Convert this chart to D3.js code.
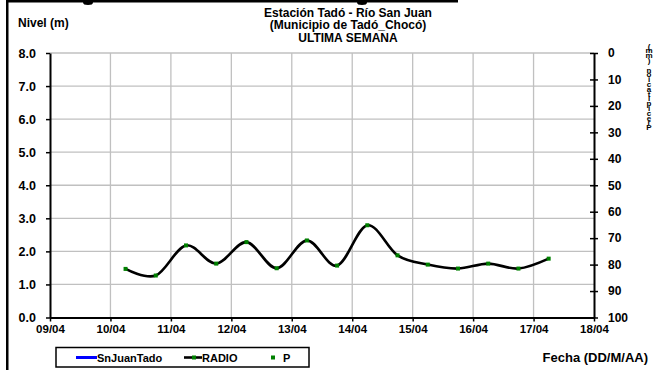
<!DOCTYPE html>
<html>
<head>
<meta charset="utf-8">
<script src="https://cdn.jsdelivr.net/npm/d3@7/dist/d3.min.js"></script>
<style>
  html, body { margin: 0; padding: 0; background: #fff; }
  svg { display: block; font-family: "Liberation Sans", Arial, sans-serif; font-weight: bold; }
</style>
</head>
<body>
<svg id="chart" width="653" height="370"></svg>
<script>
// Station level readings (m), every 12 hours
const fechas = [
  "2021-04-10T06:00", "2021-04-10T18:00", "2021-04-11T06:00", "2021-04-11T18:00",
  "2021-04-12T06:00", "2021-04-12T18:00", "2021-04-13T06:00", "2021-04-13T18:00",
  "2021-04-14T06:00", "2021-04-14T18:00", "2021-04-15T06:00", "2021-04-15T18:00",
  "2021-04-16T06:00", "2021-04-16T18:00", "2021-04-17T06:00"
];
const nivel = [1.47, 1.27, 2.18, 1.63, 2.28, 1.49, 2.33, 1.57, 2.79, 1.88, 1.60, 1.48, 1.63, 1.48, 1.78];

const fechaInicio = "2021-04-09T00:00";
const fechaFin = "2021-04-18T00:00";
const nivelTicks = [0, 1, 2, 3, 4, 5, 6, 7, 8];
const precipTicks = [0, 10, 20, 30, 40, 50, 60, 70, 80, 90, 100];
const titulo = ["Estación Tadó - Río San Juan", "(Municipio de Tadó_Chocó)", "ULTIMA SEMANA"];
const leyenda = ["SnJuanTado", "RADIO", "P"];
const etiquetaPrecip = "Precipitación (mm)";

const parse = d3.timeParse("%Y-%m-%dT%H:%M");
const datos = fechas.map((f, i) => ({ t: parse(f), v: nivel[i] }));

const svg = d3.select("#chart");
const mLeft = 50, mRight = 594, mTop = 53, mBottom = 317.5;
const FONT = "Liberation Sans, Arial, sans-serif";

const x = d3.scaleTime().domain([parse(fechaInicio), parse(fechaFin)]).range([mLeft, mRight]);
const y = d3.scaleLinear().domain([0, 8]).range([mBottom, mTop]);
const yP = d3.scaleLinear().domain([0, 100]).range([mTop, mBottom]);

const dias = d3.timeDay.range(parse(fechaInicio), d3.timeDay.offset(parse(fechaFin), 1));

// outer frame fragments
svg.append("rect").attr("x", 6).attr("y", 0).attr("width", 2.5).attr("height", 370).attr("fill", "#000");
svg.append("rect").attr("x", 6).attr("y", 0).attr("width", 452).attr("height", 2.5).attr("fill", "#000");
svg.append("g").attr("fill", "#000").selectAll("ellipse").data([88, 362]).join("ellipse")
  .attr("cx", d => d).attr("cy", 2.5).attr("rx", 5).attr("ry", 2.5);

// gridlines
const grid = svg.append("g").attr("stroke", "#c0c0c0").attr("stroke-width", 1.3);
grid.selectAll("line.h").data(nivelTicks.filter(d => d > 0)).join("line")
  .attr("x1", mLeft).attr("x2", mRight).attr("y1", d => y(d)).attr("y2", d => y(d));
grid.selectAll("line.v").data(dias.slice(1, -1)).join("line")
  .attr("x1", d => x(d)).attr("x2", d => x(d)).attr("y1", mTop).attr("y2", mBottom);

// left axis
const axL = svg.append("g").attr("transform", `translate(${mLeft},0)`)
  .call(d3.axisLeft(y).tickValues(nivelTicks).tickFormat(d3.format(".1f")).tickSizeInner(4).tickSizeOuter(0).tickPadding(10));
axL.select(".domain").attr("stroke-width", 2);
axL.selectAll(".tick line").attr("stroke-width", 1.5);
axL.selectAll("text").attr("font-size", 12.5).attr("font-weight", "bold").attr("fill", "#000").attr("font-family", FONT);

// right axis (precipitation, inverted)
const axR = svg.append("g").attr("transform", `translate(${mRight},0)`)
  .call(d3.axisRight(yP).tickValues(precipTicks).tickSizeInner(4).tickSizeOuter(0).tickPadding(10));
axR.select(".domain").attr("stroke-width", 2);
axR.selectAll(".tick line").attr("x1", -4).attr("stroke-width", 1.5);
axR.selectAll("text").attr("font-size", 12).attr("font-weight", "bold").attr("fill", "#000").attr("font-family", FONT);

// bottom axis
const axB = svg.append("g").attr("transform", `translate(0,${mBottom})`)
  .call(d3.axisBottom(x).tickValues(dias).tickFormat(d3.timeFormat("%d/%m")).tickSizeInner(4).tickSizeOuter(0).tickPadding(3));
axB.select(".domain").attr("stroke-width", 2);
axB.selectAll(".tick line").attr("stroke-width", 1.5);
axB.selectAll("text").attr("font-size", 11.5).attr("font-weight", "bold").attr("fill", "#000").attr("font-family", FONT);

// level series
svg.append("path").datum(datos)
  .attr("fill", "none").attr("stroke", "#000").attr("stroke-width", 2.6)
  .attr("d", d3.line().x(d => x(d.t)).y(d => y(d.v)).curve(d3.curveCatmullRom.alpha(0)));
svg.append("g").selectAll("rect").data(datos).join("rect")
  .attr("x", d => x(d.t) - 2).attr("y", d => y(d.v) - 2).attr("width", 4).attr("height", 4)
  .attr("fill", "#008000");

// titles
svg.append("g").selectAll("text").data(titulo).join("text")
  .attr("x", 348).attr("y", (d, i) => 16.5 + i * 12.5).attr("text-anchor", "middle")
  .attr("font-size", 12).text(d => d);

svg.append("text").attr("x", 18).attr("y", 27).attr("font-size", 12).text("Nivel (m)");
svg.append("text").attr("x", 648).attr("y", 362).attr("text-anchor", "end").attr("font-size", 13).text("Fecha (DD/M/AA)");

// precipitation label: upright glyphs in a tight column, read bottom to top
svg.append("text")
  .attr("x", 649).attr("y", 128)
  .style("writing-mode", "vertical-rl")
  .style("text-orientation", "upright")
  .style("direction", "rtl")
  .style("unicode-bidi", "bidi-override")
  .style("letter-spacing", "-4.2px")
  .attr("font-size", 8).attr("font-weight", "bold")
  .text(etiquetaPrecip);

// legend
const lg = svg.append("g");
lg.append("rect").attr("x", 56).attr("y", 347.5).attr("width", 253).attr("height", 19.5)
  .attr("fill", "#fff").attr("stroke", "#000").attr("stroke-width", 1.5);
lg.append("line").attr("x1", 76).attr("x2", 97).attr("y1", 357.5).attr("y2", 357.5)
  .attr("stroke", "#0000ff").attr("stroke-width", 3);
lg.append("text").attr("x", 97).attr("y", 361.5).attr("font-size", 11).text(leyenda[0]);
lg.append("line").attr("x1", 184).attr("x2", 202).attr("y1", 357.5).attr("y2", 357.5)
  .attr("stroke", "#000").attr("stroke-width", 2.6);
lg.append("rect").attr("x", 192).attr("y", 355.5).attr("width", 4).attr("height", 4).attr("fill", "#008000");
lg.append("text").attr("x", 202).attr("y", 361.5).attr("font-size", 11).text(leyenda[1]);
lg.append("rect").attr("x", 271).attr("y", 355.5).attr("width", 4).attr("height", 4).attr("fill", "#008000");
lg.append("text").attr("x", 283).attr("y", 361.5).attr("font-size", 11).text(leyenda[2]);
</script>
</body>
</html>
